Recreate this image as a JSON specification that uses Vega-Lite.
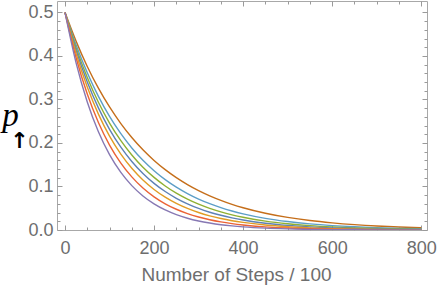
{
  "$schema": "https://vega.github.io/schema/vega-lite/v6.json",
  "width": 370,
  "height": 229,
  "autosize": {"type": "none"},
  "padding": {"left": 57, "top": 1, "right": 10, "bottom": 56},
  "config": {
    "view": {"stroke": "#a8a8a8", "strokeWidth": 1},
    "axis": {"domain": false, "grid": false, "tickColor": "#9a9a9a", "labelFont": "Liberation Sans", "labelColor": "#6e6e6e", "labelFontSize": 18, "titleFont": "Liberation Sans", "titleColor": "#6e6e6e", "titleFontWeight": "normal"}
  },
  "data": {
    "values": [
      {"x": 0, "a": 0.5, "b": 0.5, "c": 0.5, "d": 0.5, "e": 0.5, "f": 0.5, "g": 0.5},
      {"x": 25, "a": 0.4336, "b": 0.4250, "c": 0.4187, "d": 0.4125, "e": 0.4053, "f": 0.3953, "g": 0.3836},
      {"x": 50, "a": 0.3760, "b": 0.3613, "c": 0.3506, "d": 0.3402, "e": 0.3285, "f": 0.3125, "g": 0.2943},
      {"x": 75, "a": 0.3261, "b": 0.3071, "c": 0.2936, "d": 0.2807, "e": 0.2663, "f": 0.2471, "g": 0.2258},
      {"x": 100, "a": 0.2828, "b": 0.2610, "c": 0.2458, "d": 0.2315, "e": 0.2158, "f": 0.1953, "g": 0.1732},
      {"x": 125, "a": 0.2452, "b": 0.2219, "c": 0.2058, "d": 0.1910, "e": 0.1750, "f": 0.1544, "g": 0.1329},
      {"x": 150, "a": 0.2126, "b": 0.1886, "c": 0.1724, "d": 0.1576, "e": 0.1418, "f": 0.1221, "g": 0.1020},
      {"x": 175, "a": 0.1844, "b": 0.1603, "c": 0.1443, "d": 0.1300, "e": 0.1150, "f": 0.0965, "g": 0.0782},
      {"x": 200, "a": 0.1599, "b": 0.1363, "c": 0.1209, "d": 0.1072, "e": 0.0932, "f": 0.0763, "g": 0.0600},
      {"x": 225, "a": 0.1387, "b": 0.1158, "c": 0.1012, "d": 0.0884, "e": 0.0755, "f": 0.0603, "g": 0.0460},
      {"x": 250, "a": 0.1203, "b": 0.0985, "c": 0.0847, "d": 0.0729, "e": 0.0612, "f": 0.0477, "g": 0.0353},
      {"x": 275, "a": 0.1043, "b": 0.0837, "c": 0.0710, "d": 0.0602, "e": 0.0496, "f": 0.0377, "g": 0.0271},
      {"x": 300, "a": 0.0904, "b": 0.0711, "c": 0.0594, "d": 0.0496, "e": 0.0402, "f": 0.0298, "g": 0.0208},
      {"x": 325, "a": 0.0784, "b": 0.0605, "c": 0.0498, "d": 0.0409, "e": 0.0326, "f": 0.0236, "g": 0.0160},
      {"x": 350, "a": 0.0680, "b": 0.0514, "c": 0.0417, "d": 0.0338, "e": 0.0264, "f": 0.0186, "g": 0.0122},
      {"x": 375, "a": 0.0590, "b": 0.0437, "c": 0.0349, "d": 0.0279, "e": 0.0214, "f": 0.0147, "g": 0.0094},
      {"x": 400, "a": 0.0512, "b": 0.0371, "c": 0.0292, "d": 0.0230, "e": 0.0174, "f": 0.0116, "g": 0.0072},
      {"x": 450, "a": 0.0385, "b": 0.0268, "c": 0.0205, "d": 0.0156, "e": 0.0114, "f": 0.0073, "g": 0.0042},
      {"x": 500, "a": 0.0289, "b": 0.0194, "c": 0.0144, "d": 0.0106, "e": 0.0075, "f": 0.0045, "g": 0.0025},
      {"x": 550, "a": 0.0217, "b": 0.0140, "c": 0.0101, "d": 0.0072, "e": 0.0049, "f": 0.0028, "g": 0.0015},
      {"x": 600, "a": 0.0164, "b": 0.0101, "c": 0.0071, "d": 0.0049, "e": 0.0032, "f": 0.0018, "g": 0.0009},
      {"x": 650, "a": 0.0123, "b": 0.0073, "c": 0.0050, "d": 0.0033, "e": 0.0021, "f": 0.0011, "g": 0.0005},
      {"x": 700, "a": 0.0092, "b": 0.0053, "c": 0.0035, "d": 0.0023, "e": 0.0014, "f": 0.0007, "g": 0.0003},
      {"x": 750, "a": 0.0070, "b": 0.0038, "c": 0.0024, "d": 0.0015, "e": 0.0009, "f": 0.0004, "g": 0.0002},
      {"x": 800, "a": 0.0052, "b": 0.0028, "c": 0.0017, "d": 0.0011, "e": 0.0006, "f": 0.0003, "g": 0.0001}
    ]
  },
  "transform": [{"fold": ["a", "b", "c", "d", "e", "f", "g"], "as": ["s", "p"]}],
  "resolve": {"axis": {"x": "independent", "y": "independent"}},
  "layer": [
    {
      "mark": {"type": "line", "strokeWidth": 1.4, "interpolate": "monotone", "clip": true},
      "encoding": {
        "x": {"field": "x", "type": "quantitative", "scale": {"domain": [-18, 813], "nice": false, "zero": false},
          "axis": {"orient": "bottom", "values": [0, 200, 400, 600, 800], "tickSize": -5, "labelPadding": 14, "title": "Number of Steps / 100", "titleFontSize": 19, "titlePadding": 8, "titleX": 179}},
        "y": {"field": "p", "type": "quantitative", "scale": {"domain": [0, 0.5264], "nice": false},
          "axis": {"orient": "left", "values": [0, 0.1, 0.2, 0.3, 0.4, 0.5], "format": ".1f", "tickSize": -5, "labelPadding": 9, "title": "p", "titleFont": "Liberation Serif", "titleFontStyle": "italic", "titleFontSize": 33, "titleColor": "#000000", "titleAngle": 0, "titleAlign": "center", "titleBaseline": "alphabetic", "titleX": -47, "titleY": 124}},
        "color": {"field": "s", "type": "nominal", "legend": null,
          "scale": {"domain": ["a", "b", "c", "d", "e", "f", "g"], "range": ["#C56E1A", "#5D9EC7", "#8FB032", "#5E81B5", "#E19C24", "#EB6235", "#8778B3"]}},
        "order": {"field": "x", "type": "quantitative"}
      }
    },
    {
      "mark": {"type": "line", "strokeOpacity": 0},
      "encoding": {
        "x": {"field": "x", "type": "quantitative",
          "axis": {"orient": "bottom", "values": [50, 100, 150, 250, 300, 350, 450, 500, 550, 650, 700, 750], "tickSize": -3, "labels": false, "title": null}},
        "y": {"field": "p", "type": "quantitative",
          "axis": {"orient": "left", "values": [0.02, 0.04, 0.06, 0.08, 0.12, 0.14, 0.16, 0.18, 0.22, 0.24, 0.26, 0.28, 0.32, 0.34, 0.36, 0.38, 0.42, 0.44, 0.46, 0.48], "tickSize": -3, "labels": false,
            "title": "↑", "titleFont": "DejaVu Sans", "titleFontWeight": "bold", "titleFontSize": 22, "titleColor": "#000000", "titleAngle": 0, "titleAlign": "center", "titleBaseline": "alphabetic", "titleX": -38, "titleY": 146}},
        "detail": {"field": "s"}
      }
    },
    {
      "mark": {"type": "line", "strokeOpacity": 0},
      "encoding": {
        "x": {"field": "x", "type": "quantitative",
          "axis": {"orient": "top", "values": [0, 200, 400, 600, 800], "tickSize": -5, "labels": false, "title": null}},
        "y": {"field": "p", "type": "quantitative",
          "axis": {"orient": "right", "values": [0, 0.1, 0.2, 0.3, 0.4, 0.5], "tickSize": -5, "labels": false, "title": null}},
        "detail": {"field": "s"}
      }
    },
    {
      "mark": {"type": "line", "strokeOpacity": 0},
      "encoding": {
        "x": {"field": "x", "type": "quantitative",
          "axis": {"orient": "top", "values": [50, 100, 150, 250, 300, 350, 450, 500, 550, 650, 700, 750], "tickSize": -3, "labels": false, "title": null}},
        "y": {"field": "p", "type": "quantitative",
          "axis": {"orient": "right", "values": [0.02, 0.04, 0.06, 0.08, 0.12, 0.14, 0.16, 0.18, 0.22, 0.24, 0.26, 0.28, 0.32, 0.34, 0.36, 0.38, 0.42, 0.44, 0.46, 0.48], "tickSize": -3, "labels": false, "title": null}},
        "detail": {"field": "s"}
      }
    }
  ]
}
